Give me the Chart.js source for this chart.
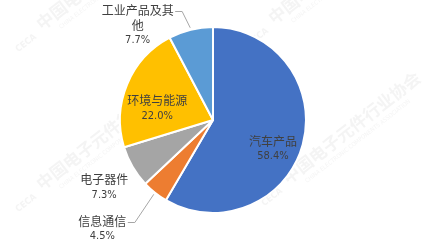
<!DOCTYPE html>
<html>
<head>
<meta charset="utf-8">
<script src="https://cdn.jsdelivr.net/npm/chart.js@4.4.1/dist/chart.umd.min.js"></script>
<style>
  html, body { margin: 0; padding: 0; background: #fff; }
  #wrap { width: 426px; height: 246px; }
</style>
</head>
<body>
<div id="wrap"><canvas id="c" width="426" height="246"></canvas></div>
<script>
const categories = ['汽车产品', '信息通信', '电子器件', '环境与能源', '工业产品及其他'];
const shares = [58.4, 4.5, 7.3, 22.0, 7.7];
const shareLabels = ['58.4%', '4.5%', '7.3%', '22.0%', '7.7%'];
const sliceColors = ['#4472C4', '#ED7D31', '#A5A5A5', '#FFC000', '#5B9BD5'];

// where each label block sits, in pie radii from the centre (layout only)
const labelSpots = [
    { dx: 0.645, dy: 0.31, lines: ['汽车产品'] },
    { dx: -1.19, dy: 1.17, lines: ['信息通信'], leader: true },
    { dx: -1.17, dy: 0.72, lines: ['电子器件'] },
    { dx: -0.60, dy: -0.13, lines: ['环境与能源'] },
    { dx: -0.81, dy: -1.02, lines: ['工业产品及其', '他'], leader: true },
];

const watermarks = [
    { x: 36, y: 36 }, { x: 268, y: 30 }, { x: 36, y: 196 }, { x: 282, y: 190 },
];

const CJK = "'Noto Sans CJK SC', 'Noto Sans', sans-serif";
const NUM = "'Liberation Sans Narrow', 'DejaVu Sans Condensed', 'Liberation Sans', sans-serif";

const watermarkPlugin = {
    id: 'watermark',
    beforeDraw(chart) {
        const ctx = chart.ctx;
        ctx.save();
        watermarks.forEach(w => {
            ctx.save();
            ctx.translate(w.x, w.y);
            ctx.rotate(-38 * Math.PI / 180);
            ctx.fillStyle = 'rgba(170,170,170,0.13)';
            ctx.font = `bold 17px ${CJK}`;
            ctx.textBaseline = 'alphabetic';
            ctx.fillText('中国电子元件行业协会', 8, 0);
            ctx.font = `6px ${NUM}`;
            ctx.fillText('CHINA ELECTRONIC COMPONENTS ASSOCIATION', 24, 10);
            ctx.font = `bold 9px ${NUM}`;
            ctx.fillText('CECA', -24, 2);
            ctx.restore();
        });
        ctx.restore();
    }
};

const labelPlugin = {
    id: 'sliceLabels',
    afterDraw(chart) {
        const ctx = chart.ctx;
        const arcs = chart.getDatasetMeta(0).data;
        ctx.save();
        ctx.textAlign = 'center';
        ctx.textBaseline = 'middle';
        arcs.forEach((arc, i) => {
            const p = arc.getProps(['x', 'y', 'outerRadius', 'startAngle', 'endAngle'], true);
            const spot = labelSpots[i];
            const lineH = 15.5;
            const lines = spot.lines.concat([shareLabels[i]]);
            const cx = p.x + spot.dx * p.outerRadius;
            const cy = p.y + spot.dy * p.outerRadius;
            const top = cy - (lines.length - 1) * lineH / 2;
            ctx.fillStyle = '#404040';
            lines.forEach((t, k) => {
                const isNum = k === lines.length - 1;
                ctx.font = isNum ? `11px ${NUM}` : `12px ${CJK}`;
                ctx.fillText(t, cx, top + k * lineH + (isNum ? 0 : 0.5));
            });
            if (spot.leader) {
                ctx.font = `12px ${CJK}`;
                const w = ctx.measureText(spot.lines[0]).width;
                const sx = cx + w / 2 + 1.5;
                const sy = Math.round(top + 1) + 0.5;
                const mid = (p.startAngle + p.endAngle) / 2;
                const ex = p.x + Math.cos(mid) * (p.outerRadius + 2);
                const ey = p.y + Math.sin(mid) * (p.outerRadius + 2);
                ctx.strokeStyle = '#A6A6A6';
                ctx.lineWidth = 1;
                ctx.beginPath();
                ctx.moveTo(sx, sy);
                ctx.lineTo(sx + 7, sy);
                ctx.lineTo(ex, ey);
                ctx.stroke();
            }
        });
        ctx.restore();
    }
};

new Chart(document.getElementById('c'), {
    type: 'pie',
    data: {
        labels: categories,
        datasets: [{
            data: shares,
            backgroundColor: sliceColors,
            borderColor: '#ffffff',
            borderWidth: 2,
        }],
    },
    options: {
        responsive: false,
        devicePixelRatio: 1,
        animation: false,
        layout: { padding: { top: 26, bottom: 32, left: 0, right: 0 } },
        plugins: {
            legend: { display: false },
            tooltip: { enabled: false },
        },
    },
    plugins: [watermarkPlugin, labelPlugin],
});
</script>
</body>
</html>
